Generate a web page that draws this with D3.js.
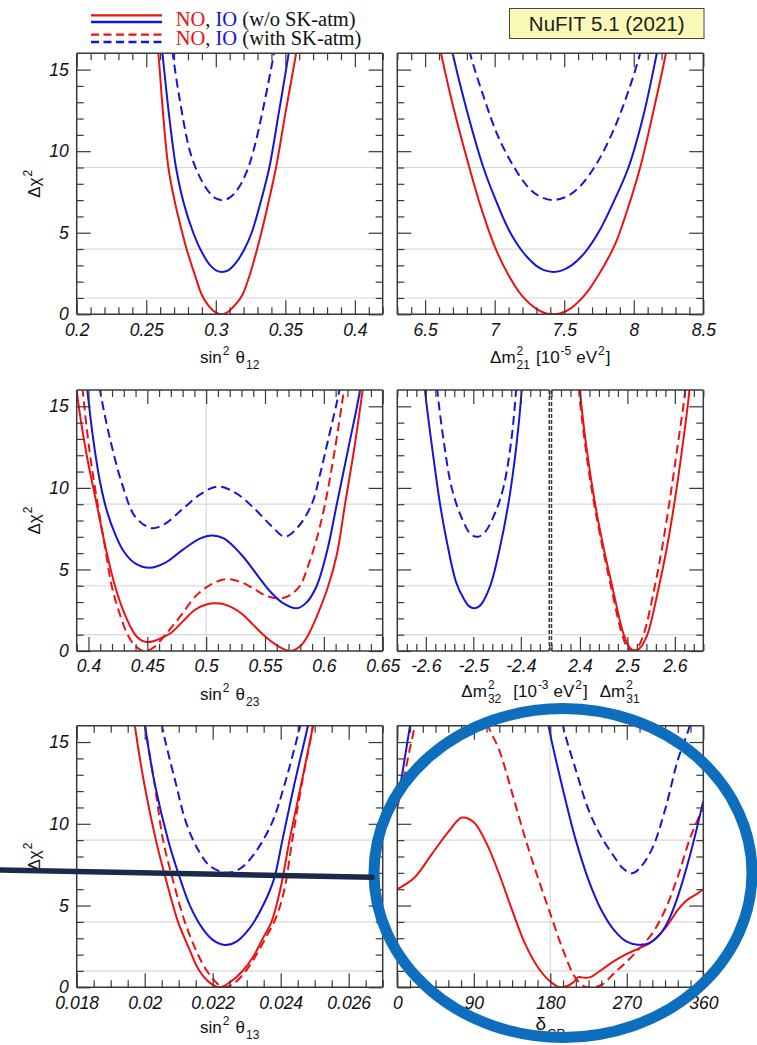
<!DOCTYPE html>
<html><head><meta charset="utf-8">
<script src="https://cdn.jsdelivr.net/npm/d3@7"></script>
<style>
body{margin:0;background:#fff;}
svg{display:block;}
text{white-space:pre;}
</style></head><body>
<svg id="c" width="757" height="1045"></svg>
<script>
// ---------------- DATA ----------------
const chiTicks = [0, 5, 10, 15];
const chiLabels = ['0', '5', '10', '15'];
const chiGrid = [1, 4, 9];

const th12Ticks = [0.2, 0.25, 0.3, 0.35, 0.4];
const th12Labels = ['0.2', '0.25', '0.3', '0.35', '0.4'];
const dm21Ticks = [6.5, 7, 7.5, 8, 8.5];
const dm21Labels = ['6.5', '7', '7.5', '8', '8.5'];
const th23Ticks = [0.4, 0.45, 0.5, 0.55, 0.6, 0.65];
const th23Labels = ['0.4', '0.45', '0.5', '0.55', '0.6', '0.65'];
const dm32Ticks = [-2.6, -2.5, -2.4];
const dm32Labels = ['-2.6', '-2.5', '-2.4'];
const dm31Ticks = [2.4, 2.5, 2.6];
const dm31Labels = ['2.4', '2.5', '2.6'];
const th13Ticks = [0.018, 0.02, 0.022, 0.024, 0.026];
const th13Labels = ['0.018', '0.02', '0.022', '0.024', '0.026'];
const dcpTicks = [0, 90, 180, 270, 360];
const dcpLabels = ['0', '90', '180', '270', '360'];

// sin^2 theta12
const th12_NO = [[0.2575,16.8],[0.2587,16],[0.262,12.4],[0.2659,9],[0.270,7.1],[0.275,5.3],[0.279,4],[0.285,2.4],[0.2899,1.2],[0.295,0.5],[0.300,0.1],[0.304,0],[0.308,0.1],[0.312,0.4],[0.3186,1.1],[0.324,2.3],[0.3294,3.9],[0.335,5.8],[0.3433,9],[0.350,12.3],[0.3577,16],[0.359,16.8]];
const th12_IO = [[0.260,17],[0.2616,16],[0.266,12.5],[0.2714,9],[0.277,6.8],[0.2838,5],[0.290,3.8],[0.296,3.0],[0.3005,2.68],[0.3045,2.6],[0.309,2.7],[0.314,3.1],[0.320,3.9],[0.3258,5],[0.332,6.8],[0.3385,9],[0.345,12.2],[0.3524,16],[0.354,17]];
const th12_IO_SK = [[0.2675,17],[0.269,16],[0.274,13.2],[0.2814,10],[0.288,8.5],[0.295,7.5],[0.300,7.1],[0.305,7.0],[0.310,7.15],[0.316,7.7],[0.322,8.7],[0.327,10],[0.334,12.6],[0.3418,16],[0.343,16.7]];

// Delta m^2_21
const dm21_NO = [[6.59,17],[6.614,16],[6.70,12.8],[6.818,9],[6.90,6.6],[7.003,4.1],[7.10,2.4],[7.20,1.1],[7.30,0.33],[7.36,0.08],[7.42,0],[7.48,0.08],[7.55,0.38],[7.65,1.2],[7.75,2.45],[7.866,4.3],[7.95,6.3],[8.046,9],[8.14,12.4],[8.231,16],[8.25,17]];
const dm21_IO = [[6.675,17],[6.698,16],[6.80,12.5],[6.919,9],[7.003,7.1],[7.10,5.2],[7.20,3.85],[7.30,2.97],[7.36,2.69],[7.42,2.6],[7.48,2.68],[7.55,2.98],[7.65,3.8],[7.75,5.07],[7.85,6.8],[7.962,9],[8.07,12.2],[8.166,16],[8.19,17]];
const dm21_IO_SK = [[6.80,17],[6.823,16],[6.93,13.1],[7.02,11.0],[7.134,9.1],[7.25,7.7],[7.33,7.2],[7.42,7.0],[7.52,7.23],[7.62,7.9],[7.734,9.25],[7.85,11.2],[7.95,13.4],[8.046,16],[8.07,17]];

// sin^2 theta23
const th23_NO = [[0.3895,16.5],[0.390,16],[0.398,12.2],[0.407,9],[0.415,6.2],[0.4225,4],[0.430,2.4],[0.4396,1],[0.445,0.65],[0.4495,0.55],[0.455,0.6],[0.462,0.8],[0.470,1.1],[0.480,1.8],[0.490,2.5],[0.500,2.85],[0.509,2.92],[0.518,2.8],[0.530,2.3],[0.540,1.6],[0.550,0.9],[0.560,0.35],[0.5718,0],[0.580,0.3],[0.5868,1],[0.595,2.3],[0.6038,4],[0.611,5.9],[0.618,9],[0.626,12.5],[0.633,16],[0.635,17]];
const th23_NO_SK = [[0.394,17],[0.3951,16],[0.401,12.2],[0.4078,9],[0.414,6.4],[0.4197,4],[0.426,2.4],[0.4333,1],[0.440,0.3],[0.447,0],[0.455,0.2],[0.4665,1.1],[0.4778,2.1],[0.492,3.43],[0.506,4.15],[0.5174,4.4],[0.5287,4.25],[0.540,3.84],[0.5514,3.37],[0.5642,3.23],[0.5712,3.43],[0.5797,4],[0.587,5.3],[0.594,6.9],[0.601,9],[0.609,12.2],[0.6171,16],[0.619,17]];
const th23_IO = [[0.3975,17],[0.399,16],[0.404,13],[0.410,10.3],[0.416,8.5],[0.4225,7.2],[0.430,6.1],[0.440,5.35],[0.452,5.1],[0.465,5.4],[0.480,6.2],[0.495,6.9],[0.5047,7.08],[0.515,6.9],[0.530,5.9],[0.545,4.5],[0.555,3.6],[0.565,2.95],[0.5769,2.62],[0.585,2.95],[0.594,4],[0.603,6.2],[0.611,9],[0.621,12.5],[0.6307,16],[0.632,17]];
const th23_IO_SK = [[0.408,17],[0.4098,16],[0.4183,13],[0.4296,10],[0.440,8.2],[0.4537,7.53],[0.465,7.8],[0.480,8.7],[0.495,9.6],[0.5095,10.08],[0.525,9.7],[0.540,8.8],[0.555,7.7],[0.567,7.01],[0.578,7.6],[0.5897,9],[0.597,10.9],[0.6038,13],[0.6132,16],[0.615,17]];

// Delta m^2_32 (IO) and Delta m^2_31 (NO)
const dm32_IO = [[-2.6035,17],[-2.6017,16],[-2.585,12.1],[-2.570,9],[-2.555,6.6],[-2.536,4.2],[-2.52,3.2],[-2.509,2.75],[-2.498,2.62],[-2.487,2.75],[-2.478,3.1],[-2.462,4.2],[-2.445,6.2],[-2.4263,9],[-2.41,12.4],[-2.398,16],[-2.396,17]];
const dm32_IO_SK = [[-2.578,17],[-2.5758,16],[-2.562,12.8],[-2.5455,10],[-2.525,8.2],[-2.505,7.15],[-2.4895,7.01],[-2.475,7.3],[-2.455,8.4],[-2.4368,10],[-2.42,12.9],[-2.4107,15.7],[-2.4075,17]];
const dm31_NO = [[2.399,17],[2.4002,16],[2.415,12.2],[2.432,9],[2.45,6.3],[2.4677,4],[2.4923,1],[2.505,0.2],[2.5151,0],[2.527,0.2],[2.542,1],[2.5668,4],[2.583,6.3],[2.5987,9],[2.615,12.3],[2.6307,16],[2.632,17]];
const dm31_NO_SK = [[2.397,17],[2.398,16],[2.413,12.2],[2.430,9],[2.448,6.3],[2.465,4],[2.489,1],[2.500,0.2],[2.510,0],[2.521,0.2],[2.534,1],[2.558,4],[2.573,6.3],[2.588,9],[2.605,12.4],[2.622,16],[2.624,17]];

// sin^2 theta13
const th13_NO = [[0.01965,17],[0.01971,16],[0.0200,12.3],[0.02033,9],[0.02065,6.4],[0.02098,4],[0.0213,2.4],[0.02158,1.1],[0.0219,0.3],[0.0222,0],[0.0225,0.3],[0.02288,1],[0.0232,1.9],[0.02345,2.9],[0.02373,4],[0.0240,6.1],[0.02426,9],[0.0246,12.4],[0.02495,16],[0.0250,16.7]];
const th13_NO_SK = [[0.01995,17],[0.02001,16],[0.0203,12.3],[0.02054,9],[0.02085,6.4],[0.02118,4],[0.0215,2.3],[0.0218,1.1],[0.0221,0.3],[0.02231,0],[0.0226,0.2],[0.0229,0.8],[0.0232,1.7],[0.02355,3.0],[0.02385,4.2],[0.0241,5.9],[0.02434,9],[0.0246,12.2],[0.02495,16],[0.0250,16.8]];
const th13_IO = [[0.01995,17],[0.02001,16],[0.0203,12.4],[0.02069,9],[0.0210,6.9],[0.02133,5],[0.0217,3.6],[0.0220,2.9],[0.02236,2.59],[0.0227,2.8],[0.0231,3.65],[0.02348,5],[0.0238,6.6],[0.02405,9],[0.0244,12.4],[0.0248,16],[0.02485,16.6]];
const th13_IO_SK = [[0.02046,17],[0.02051,16],[0.0209,12.6],[0.02123,10],[0.0216,8.3],[0.02193,7.4],[0.02242,7.01],[0.0228,7.25],[0.0232,8.1],[0.02373,10],[0.0241,12.3],[0.02454,15.7],[0.0246,16.2]];

// delta_CP (null = curve leaves the plotted range)
const dcp_NO = [[0,6.0],[20,6.7],[40,8.1],[60,9.5],[76,10.38],[90,10.1],[105,8.8],[120,6.9],[135,4.73],[150,2.7],[165,1.26],[180,0.35],[191,0],[200,0.08],[207,0.3],[213,0.62],[220,0.58],[227,0.62],[240,1.06],[255,1.6],[270,2.04],[285,2.4],[297,2.7],[315,3.6],[330,4.73],[338,5.2],[344,5.45],[352,5.7],[360,6.0]];
const dcp_NO_SK = [[0,11.0],[7,12.6],[14,14.4],[21,16.1],[24,17],[60,null],[104,17],[107,16],[120,14.5],[135,11.9],[150,9.2],[165,6.77],[180,4.5],[195,2.28],[210,0.55],[223,0],[240,0.14],[255,0.86],[270,1.57],[285,2.39],[300,3.3],[315,4.73],[330,6.77],[345,9.2],[360,11.0]];
const dcp_IO = [[0,11.4],[5,12.8],[10,14.4],[15,16],[18,17],[90,null],[176,17],[178,16],[195,12.07],[210,9.0],[225,6.56],[240,4.73],[255,3.5],[270,2.79],[283,2.6],[297,2.72],[310,3.3],[320,4.2],[330,5.55],[345,8.2],[360,11.4]];
const dcp_IO_SK = [[193,17],[195,16],[210,13.3],[225,10.85],[240,9.2],[255,8.0],[265,7.3],[276,6.97],[285,7.28],[300,8.5],[315,10.85],[330,13.9],[344,16],[346,16.8]];

// ---------------- DRAWING ----------------
const RED = '#ee1111', BLUE = '#1414dc', INK = '#383838', GRID = '#d8d8d8';
const SANS = "'Liberation Sans', Arial, Helvetica, sans-serif";
const SERIF = "'Liberation Serif', 'Times New Roman', serif";
const svg = d3.select('#c');
const defs = svg.append('defs');

const COLS = [[76.7, 382.7], [397.3, 703.3]];
const ROWS = [[53.3, 314.3], [390, 651], [725.7, 987.3]];

function rich(x, y, parts, opts = {}) {
  const g = svg.append('g').attr('font-family', opts.font || SANS).attr('fill', '#111');
  let cx = 0, prevStart = 0;
  parts.forEach(p => {
    const t = g.append('text').attr('font-size', p.s || 17).text(p.t);
    if (p.fill) t.attr('fill', p.fill);
    const w = t.node().getComputedTextLength();
    const start = p.stack ? prevStart : cx + (p.gap || 0);
    t.attr('x', start).attr('y', p.dy || 0);
    prevStart = start;
    cx = Math.max(cx, start + w);
  });
  const off = opts.anchor === 'start' ? 0 : opts.anchor === 'end' ? -cx : -cx / 2;
  g.attr('transform', `translate(${x},${y}) rotate(${opts.rotate || 0}) translate(${off},0)`);
  return g;
}

function stepTicks(domain, step) {
  const a = Math.ceil(domain[0] / step - 1e-6), b = Math.floor(domain[1] / step + 1e-6);
  return d3.range(a, b + 1).map(i => +(i * step).toFixed(6));
}

let clipN = 0;
function drawPanel(cfg) {
  const { x0, x1, y0, y1, domain, step, ticks, labels, curves } = cfg;
  const xs = d3.scaleLinear(domain, [x0, x1]);
  const ys = d3.scaleLinear([0, 16], [y1, y0]);
  const g = svg.append('g');
  const id = 'clip' + (clipN++);
  defs.append('clipPath').attr('id', id).append('rect')
    .attr('x', x0).attr('y', y0).attr('width', x1 - x0).attr('height', y1 - y0);

  // grid
  g.selectAll('.hg').data(chiGrid).join('line')
    .attr('x1', x0).attr('x2', x1).attr('y1', d => ys(d)).attr('y2', d => ys(d))
    .attr('stroke', GRID).attr('stroke-width', 1.2);
  if (cfg.vgrid != null) {
    g.append('line').attr('x1', xs(cfg.vgrid)).attr('x2', xs(cfg.vgrid)).attr('y1', y0).attr('y2', y1)
      .attr('stroke', GRID).attr('stroke-width', 1.2);
  }

  // curves
  const line = d3.line().defined(d => d[1] != null).x(d => xs(d[0])).y(d => ys(d[1]))
    .curve(d3.curveCatmullRom.alpha(0.5));
  const cg = g.append('g').attr('clip-path', `url(#${id})`);
  curves.forEach(c => {
    cg.append('path').datum(c.d).attr('d', line).attr('fill', 'none')
      .attr('stroke', c.c).attr('stroke-width', 2)
      .attr('stroke-dasharray', c.dash ? '9,5' : null);
  });

  // x ticks
  const isMaj = v => ticks.some(t => Math.abs(t - v) < step / 10);
  const minorX = stepTicks(domain, step).filter(v => !isMaj(v));
  const minorY = d3.range(1, 16).filter(v => v % 5 !== 0);
  const style = sel => { sel.attr('color', INK); sel.select('.domain').remove(); sel.selectAll('line').attr('stroke-width', 1.2); };

  g.append('g').attr('transform', `translate(0,${y1})`)
    .call(d3.axisBottom(xs).tickValues(minorX).tickSize(-7).tickSizeOuter(0).tickFormat(''))
    .call(style);
  const maj = g.append('g').attr('transform', `translate(0,${y1})`)
    .call(d3.axisBottom(xs).tickValues(ticks).tickSize(-14).tickSizeOuter(0).tickPadding(9)
      .tickFormat((d, i) => labels[i]))
    .call(style);
  maj.attr('font-size', 17.5).attr('font-family', SANS).attr('font-style', 'italic');
  maj.selectAll('text').attr('fill', '#111');

  g.append('g').attr('transform', `translate(0,${y0})`)
    .call(d3.axisTop(xs).tickValues(minorX).tickSize(-7).tickSizeOuter(0).tickFormat(''))
    .call(style);
  g.append('g').attr('transform', `translate(0,${y0})`)
    .call(d3.axisTop(xs).tickValues(ticks).tickSize(-14).tickSizeOuter(0).tickFormat(''))
    .call(style);

  // y ticks
  if (cfg.leftTicks !== false) {
    g.append('g').attr('transform', `translate(${x0},0)`)
      .call(d3.axisLeft(ys).tickValues(minorY).tickSize(-7).tickSizeOuter(0).tickFormat(''))
      .call(style);
    const ya = g.append('g').attr('transform', `translate(${x0},0)`)
      .call(d3.axisLeft(ys).tickValues(chiTicks).tickSize(-14).tickSizeOuter(0).tickPadding(8)
        .tickFormat((d, i) => cfg.yLabels ? chiLabels[i] : ''))
      .call(style);
    ya.attr('font-size', 17.5).attr('font-family', SANS).attr('font-style', 'italic');
    ya.selectAll('text').attr('fill', '#111');
  }
  if (cfg.rightTicks !== false) {
    g.append('g').attr('transform', `translate(${x1},0)`)
      .call(d3.axisRight(ys).tickValues(minorY).tickSize(-7).tickSizeOuter(0).tickFormat(''))
      .call(style);
    g.append('g').attr('transform', `translate(${x1},0)`)
      .call(d3.axisRight(ys).tickValues(chiTicks).tickSize(-14).tickSizeOuter(0).tickFormat(''))
      .call(style);
  }

  // frame
  const fr = g.append('g').attr('stroke', INK).attr('stroke-width', 1.5).attr('fill', 'none');
  fr.append('line').attr('x1', x0).attr('x2', x1).attr('y1', y0).attr('y2', y0);
  fr.append('line').attr('x1', x0).attr('x2', x1).attr('y1', y1).attr('y2', y1);
  fr.append('line').attr('x1', x0).attr('x2', x0).attr('y1', y0).attr('y2', y1)
    .attr('stroke-dasharray', cfg.leftDash ? '4,2' : null);
  fr.append('line').attr('x1', x1).attr('x2', x1).attr('y1', y0).attr('y2', y1)
    .attr('stroke-dasharray', cfg.rightDash ? '4,2' : null);
}

// panels
drawPanel({ x0: COLS[0][0], x1: COLS[0][1], y0: ROWS[0][0], y1: ROWS[0][1], domain: [0.2, 0.42], step: 0.01,
  ticks: th12Ticks, labels: th12Labels, yLabels: true,
  curves: [{ d: th12_IO_SK, c: BLUE, dash: 1 }, { d: th12_NO, c: RED }, { d: th12_IO, c: BLUE }] });
drawPanel({ x0: COLS[1][0], x1: COLS[1][1], y0: ROWS[0][0], y1: ROWS[0][1], domain: [6.3, 8.5], step: 0.1,
  ticks: dm21Ticks, labels: dm21Labels,
  curves: [{ d: dm21_IO_SK, c: BLUE, dash: 1 }, { d: dm21_NO, c: RED }, { d: dm21_IO, c: BLUE }] });
drawPanel({ x0: COLS[0][0], x1: COLS[0][1], y0: ROWS[1][0], y1: ROWS[1][1], domain: [0.39, 0.65], step: 0.01,
  ticks: th23Ticks, labels: th23Labels, yLabels: true, vgrid: 0.5,
  curves: [{ d: th23_NO_SK, c: RED, dash: 1 }, { d: th23_IO_SK, c: BLUE, dash: 1 }, { d: th23_NO, c: RED }, { d: th23_IO, c: BLUE }] });
drawPanel({ x0: COLS[1][0], x1: 549.3, y0: ROWS[1][0], y1: ROWS[1][1], domain: [-2.66, -2.34], step: 0.02,
  ticks: dm32Ticks, labels: dm32Labels, rightTicks: false, rightDash: true,
  curves: [{ d: dm32_IO_SK, c: BLUE, dash: 1 }, { d: dm32_IO, c: BLUE }] });
drawPanel({ x0: 551.5, x1: COLS[1][1], y0: ROWS[1][0], y1: ROWS[1][1], domain: [2.34, 2.66], step: 0.02,
  ticks: dm31Ticks, labels: dm31Labels, leftTicks: false, leftDash: true,
  curves: [{ d: dm31_NO_SK, c: RED, dash: 1 }, { d: dm31_NO, c: RED }] });
drawPanel({ x0: COLS[0][0], x1: COLS[0][1], y0: ROWS[2][0], y1: ROWS[2][1], domain: [0.018, 0.027], step: 0.0005,
  ticks: th13Ticks, labels: th13Labels, yLabels: true,
  curves: [{ d: th13_NO_SK, c: RED, dash: 1 }, { d: th13_IO_SK, c: BLUE, dash: 1 }, { d: th13_NO, c: RED }, { d: th13_IO, c: BLUE }] });
drawPanel({ x0: COLS[1][0], x1: COLS[1][1], y0: ROWS[2][0], y1: ROWS[2][1], domain: [0, 360], step: 15,
  ticks: dcpTicks, labels: dcpLabels, vgrid: 180,
  curves: [{ d: dcp_NO_SK, c: RED, dash: 1 }, { d: dcp_IO_SK, c: BLUE, dash: 1 }, { d: dcp_NO, c: RED }, { d: dcp_IO, c: BLUE }] });

// axis titles
const SUP = { s: 12, dy: -8, gap: 1 };
const sub = t => ({ t, s: 12, dy: 6, gap: 1 });
rich(229.7, 363, [{ t: 'sin' }, { t: '2', ...SUP }, { t: 'θ', gap: 6 }, sub('12')]);
rich(229.7, 700, [{ t: 'sin' }, { t: '2', ...SUP }, { t: 'θ', gap: 6 }, sub('23')]);
rich(229.7, 1033, [{ t: 'sin' }, { t: '2', ...SUP }, { t: 'θ', gap: 6 }, sub('13')]);
rich(550.3, 363, [{ t: 'Δm' }, { t: '2', ...SUP }, { ...sub('21'), stack: true }, { t: '[10', gap: 6 },
  { t: '-5', ...SUP }, { t: 'eV', gap: 5 }, { t: '2', ...SUP }, { t: ']', gap: 1 }]);
rich(550.5, 697, [{ t: 'Δm' }, { t: '2', ...SUP }, { ...sub('32'), stack: true }, { t: '[10', gap: 12 },
  { t: '-3', ...SUP }, { t: 'eV', gap: 5 }, { t: '2', ...SUP }, { t: ']', gap: 1 },
  { t: 'Δm', gap: 12 }, { t: '2', ...SUP }, { ...sub('31'), stack: true }]);
rich(550.3, 1030, [{ t: 'δ', s: 19 }, { t: 'CP', s: 13, dy: 8, gap: 1 }]);

// y titles
ROWS.forEach(r => {
  const mid = (r[0] + r[1]) / 2;
  rich(40, mid + 14, [{ t: 'Δχ' }, { t: '2', ...SUP }], { anchor: 'start', rotate: -90 });
});

// legend
const legLines = [
  { y: 15.3, c: RED, dash: null }, { y: 22, c: BLUE, dash: null },
  { y: 34.7, c: RED, dash: '8,4.5' }, { y: 42, c: BLUE, dash: '8,4.5' }];
legLines.forEach(l => svg.append('line').attr('x1', 91).attr('x2', 162).attr('y1', l.y).attr('y2', l.y)
  .attr('stroke', l.c).attr('stroke-width', 2.3).attr('stroke-dasharray', l.dash));
const legText = [['(w/o SK-atm)', 26], ['(with SK-atm)', 45]];
legText.forEach(([t, y]) => {
  const tx = svg.append('text').attr('x', 175.7).attr('y', y).attr('font-family', SERIF).attr('font-size', 20.5).attr('fill', '#111');
  tx.append('tspan').attr('fill', RED).text('NO');
  tx.append('tspan').text(', ');
  tx.append('tspan').attr('fill', BLUE).text('IO');
  tx.append('tspan').text(' ' + t);
});

// NuFIT box
svg.append('rect').attr('x', 509.5).attr('y', 8.5).attr('width', 194.5).attr('height', 30)
  .attr('fill', '#fbf9b8').attr('stroke', '#444').attr('stroke-width', 1);
svg.append('text').attr('x', 606.7).attr('y', 31).attr('text-anchor', 'middle')
  .attr('font-family', SANS).attr('font-size', 20.5).attr('fill', '#222').text('NuFIT 5.1 (2021)');

// annotations drawn over the figure
svg.append('ellipse').attr('cx', 563).attr('cy', 873).attr('rx', 189).attr('ry', 164.5)
  .attr('fill', 'none').attr('stroke', '#0d6ebd').attr('stroke-width', 11);
svg.append('line').attr('x1', -5).attr('y1', 869.8).attr('x2', 372).attr('y2', 877.3)
  .attr('stroke', '#1b2a4a').attr('stroke-width', 5.5).attr('stroke-linecap', 'round');
</script>
</body></html>
